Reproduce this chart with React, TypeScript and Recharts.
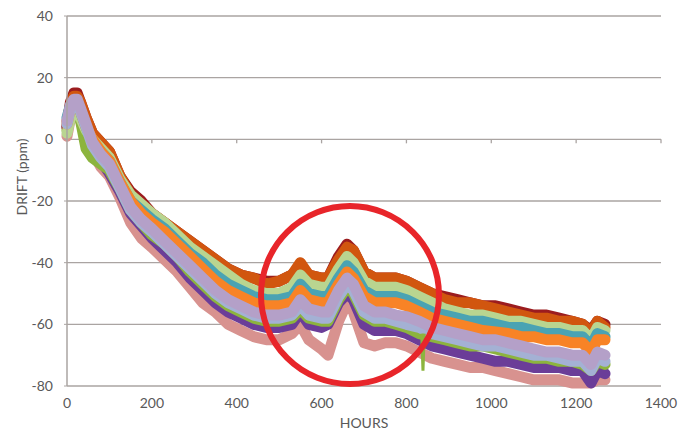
import React from 'react';
import { LineChart, Line, XAxis, YAxis, CartesianGrid, ReferenceDot, ReferenceLine } from 'recharts';

const HOURS = [0, 8, 16, 24, 32, 45, 60, 80, 100, 125, 150, 175, 200, 230, 260, 290, 320, 350, 380, 410, 440, 470, 500, 530, 550, 570, 600, 615, 640, 660, 675, 700, 725, 750, 775, 800, 830, 860, 890, 920, 950, 980, 1010, 1040, 1070, 1100, 1130, 1160, 1190, 1215, 1235, 1250, 1268];

const DARK_RED = [4, 12, 15, 15, 12, 7, 2, -1, -4, -12, -17, -20, -24, -27, -30, -33, -36, -39, -42, -44, -45, -46, -46, -44, -41, -44, -45, -45, -38, -34, -36, -43, -45, -45, -45, -46, -48, -50, -51, -52, -53, -54, -54, -55, -56, -57, -57, -58, -59, -60, -62, -59, -60];
const DARK_ORANGE = [6, 11, 14, 14, 12, 7, 2, -1, -4, -12, -18, -21, -24, -27, -30, -33, -36, -39, -42, -44, -45, -47, -46, -44, -40, -44, -45, -45, -39, -35, -36, -43, -45, -45, -45, -46, -48, -50, -52, -53, -53, -54, -55, -56, -57, -58, -58, -59, -59, -60, -63, -59, -61];
const LIGHT_GREEN = [2, 7, 9, 10, 7, 3, 0, -3, -6, -13, -18, -21, -24, -27, -31, -35, -38, -41, -44, -47, -49, -50, -50, -48, -44, -47, -48, -48, -42, -38, -40, -46, -48, -48, -48, -49, -51, -53, -55, -56, -57, -57, -58, -59, -59, -60, -61, -61, -62, -62, -65, -61, -62];
const TEAL = [7, 11, 12, 12, 9, 4, -1, -4, -7, -14, -20, -23, -26, -29, -33, -37, -40, -44, -47, -49, -51, -52, -52, -51, -47, -50, -51, -51, -45, -41, -43, -49, -51, -51, -51, -52, -54, -56, -57, -58, -59, -59, -60, -61, -61, -62, -63, -63, -64, -64, -67, -63, -64];
const ORANGE = [5, 10, 12, 12, 9, 4, 0, -4, -7, -14, -20, -24, -27, -30, -34, -38, -42, -46, -49, -51, -53, -54, -54, -53, -49, -52, -53, -53, -47, -43, -45, -51, -53, -53, -53, -54, -56, -58, -59, -60, -61, -62, -62.5, -63, -64, -64, -65, -65, -66, -66, -69, -65, -65];
const LAVENDER = [6, 11, 13, 13, 10, 5, -1, -5, -8, -15, -22, -26, -29, -33, -37, -41, -45, -49, -52, -54, -56, -57, -57, -56, -52, -55, -56, -56, -49, -45, -47, -54, -56, -56, -57, -57.5, -59, -61, -62, -63, -64, -65, -65, -66, -67, -68, -69, -69, -70, -70, -73, -69, -70];
const LIGHT_BLUE = [5, 10, 12, 12, 9, 4, -2, -6, -9, -16, -23, -27, -30, -34, -38, -42, -46, -50, -53, -55, -57, -58, -58, -57, -54, -57, -58, -58, -51, -47, -49, -56, -58, -58, -59, -60, -61, -63, -64, -65, -66, -67, -67, -68, -69, -70, -70, -71, -72, -72, -75, -71, -72];
const GREEN = [3, 7, 9, 9, 6, -3, -6, -8, -10, -16, -23, -27, -31, -34, -38, -43, -47, -51, -54, -56, -58, -59, -59, -58, -55, -58, -59, -59, -52, -48, -50, -57, -59, -59, -60, -61, -63, -64, -65, -66, -67, -67, -68, -69, -70, -71, -71, -72, -72, -73, -75, -72, -73];
const PURPLE = [4, 9, 11, 11, 8, 3, -3, -7, -11, -17, -24, -28, -32, -36, -40, -45, -49, -53, -56, -58, -60, -61, -61, -60, -56, -60, -61, -60, -53, -50, -52, -60, -62, -62, -62, -63, -65, -67, -68, -69, -70, -71, -72, -72, -73, -74, -74, -74, -75, -75, -79, -75, -76];
const PINK = [1, 7, 8, 8, 6, 1, -4, -9, -12, -19, -27, -32, -35, -39, -43, -48, -53, -56, -60, -62, -64, -65, -65, -63, -60, -65, -68, -70, -59, -53, -56, -66, -67, -66, -66, -67, -69, -71, -72, -73, -74, -74, -75, -76, -77, -78, -78, -78, -79, -79, -79, -78, -78];

const GREEN_SPIKE_HOURS = [836, 839, 842];
const GREEN_SPIKE = [-63, -75, -63];

const X_TICKS = [0, 200, 400, 600, 800, 1000, 1200, 1400];
const Y_TICKS = [-80, -60, -40, -20, 0, 20, 40];
const AXIS_TICK_MARKS = [200, 400, 600, 800, 1000, 1200, 1400];

const CIRCLE_HOURS = 667;
const CIRCLE_DRIFT = -50.5;

const SERIES = [
  { key: 'pink', values: PINK, color: '#d8928f' },
  { key: 'purple', values: PURPLE, color: '#6b3d98' },
  { key: 'green', values: GREEN, color: '#8cb43e' },
  { key: 'darkRed', values: DARK_RED, color: '#9b1c1f' },
  { key: 'darkOrange', values: DARK_ORANGE, color: '#d1560f' },
  { key: 'lightGreen', values: LIGHT_GREEN, color: '#b9d590' },
  { key: 'teal', values: TEAL, color: '#4aa3b3' },
  { key: 'orange', values: ORANGE, color: '#f88326' },
  { key: 'lightBlue', values: LIGHT_BLUE, color: '#a4b1d4' },
  { key: 'lavender', values: LAVENDER, color: '#b4a0c8' },
];

const rows = HOURS.map((h, i) => {
  const r: Record<string, number> = { hours: h };
  SERIES.forEach((s) => {
    r[s.key] = s.values[i];
  });
  return r;
});

const spikeRows = GREEN_SPIKE_HOURS.map((h, i) => ({ hours: h, drift: GREEN_SPIKE[i] }));

const FONT = 'Lato, "Open Sans", sans-serif';
const TEXT = '#595959';
const GRID = '#aaa4a2';

const YTitle = () => (
  <text
    x={21}
    y={177}
    transform="rotate(-90 21 177)"
    textAnchor="middle"
    dominantBaseline="central"
    fontFamily={FONT}
    fontSize={14}
    fill={TEXT}
  >
    DRIFT (ppm)
  </text>
);

export default function App() {
  return (
    <div style={{ position: 'absolute', left: 0, top: 0, width: 689, height: 432, background: '#fff' }}>
      <LineChart width={689} height={432} margin={{ top: 16, right: 28, bottom: 0, left: 0 }}>
        <CartesianGrid vertical={false} stroke={GRID} strokeWidth={1.3} />
        <XAxis
          dataKey="hours"
          type="number"
          domain={[0, 1400]}
          ticks={X_TICKS}
          axisLine={false}
          tickLine={false}
          tickMargin={6}
          height={46}
          tick={{ fill: TEXT, fontSize: 14, fontFamily: FONT }}
          label={{ value: 'HOURS', position: 'insideBottom', offset: 4, fill: TEXT, fontSize: 14, fontFamily: FONT }}
          allowDuplicatedCategory={false}
        />
        <YAxis
          type="number"
          domain={[-80, 40]}
          ticks={Y_TICKS}
          width={67}
          axisLine={{ stroke: GRID, strokeWidth: 1.5 }}
          tickLine={{ stroke: GRID }}
          tickSize={3}
          tickMargin={11}
          tick={{ fill: TEXT, fontSize: 14, fontFamily: FONT }}
          label={<YTitle />}
        />
        {AXIS_TICK_MARKS.map((t) => (
          <ReferenceLine
            key={t}
            segment={[{ x: t, y: 0 }, { x: t, y: -1.3 }]}
            stroke={GRID}
            strokeWidth={1.3}
          />
        ))}
        {SERIES.map((s) => (
          <Line
            key={s.key}
            data={rows}
            dataKey={s.key}
            type="linear"
            stroke={s.color}
            strokeWidth={11}
            strokeLinejoin="round"
            strokeLinecap="round"
            dot={false}
            activeDot={false}
            isAnimationActive={false}
          />
        ))}
        <Line
          data={spikeRows}
          dataKey="drift"
          type="linear"
          stroke="#8cb43e"
          strokeWidth={3}
          dot={false}
          activeDot={false}
          isAnimationActive={false}
        />
        <ReferenceDot
          x={CIRCLE_HOURS}
          y={CIRCLE_DRIFT}
          r={89}
          fill="none"
          stroke="#e8252a"
          strokeWidth={6}
          ifOverflow="visible"
        />
      </LineChart>
    </div>
  );
}
